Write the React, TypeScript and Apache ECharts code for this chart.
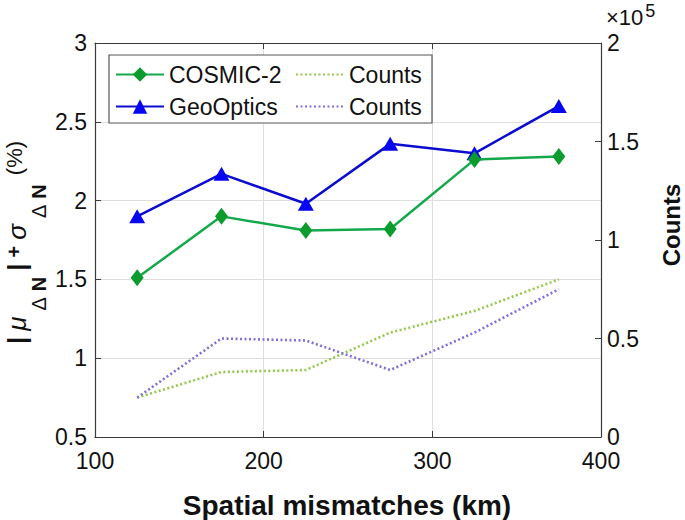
import React, { useEffect, useRef } from "react";
import * as echarts from "echarts";

const xValues = [125, 175, 225, 275, 325, 375];
const cosmic2 = [1.51, 1.9, 1.81, 1.82, 2.26, 2.28];
const geoOptics = [1.9, 2.17, 1.98, 2.36, 2.3, 2.6];
const countsCosmic = [20000, 33000, 34000, 53000, 64000, 80000];
const countsGeo = [20000, 50000, 49000, 34000, 53000, 75000];

const FONT = "'Liberation Sans', Arial, Helvetica, sans-serif";
const AXIS_COLOR = "#3a3a3a";
const GRID_COLOR = "#dedede";

const pair = (ys: number[]) => xValues.map((x, i) => [x, ys[i]]);

export default function App() {
  const ref = useRef<HTMLDivElement>(null);
  useEffect(() => {
    document.body.style.margin = "0";
    const chart = echarts.init(ref.current!, null, { renderer: "svg" });
    const axisLine = { show: true, onZero: false, lineStyle: { color: AXIS_COLOR, width: 1.2 } };
    const tick = { show: true, inside: true, length: 6, lineStyle: { color: AXIS_COLOR, width: 1 } };
    const label = { color: "#111", fontSize: 23, fontFamily: FONT };
    const L = 45;
    const pad = [0, 3, 0, 3];
    chart.setOption({
      animation: false,
      backgroundColor: "#fff",
      grid: { left: 95, right: 84, top: 43, bottom: 83, containLabel: false },
      xAxis: [
        {
          type: "value",
          min: 100,
          max: 400,
          interval: 100,
          position: "bottom",
          axisLine,
          axisTick: tick,
          axisLabel: { ...label, margin: 12 },
          splitLine: { show: true, lineStyle: { color: GRID_COLOR, width: 1 } },
        },
        {
          type: "value",
          min: 100,
          max: 400,
          interval: 100,
          position: "top",
          axisLine,
          axisTick: tick,
          axisLabel: { show: false },
          splitLine: { show: false },
        },
      ],
      yAxis: [
        {
          type: "value",
          min: 0.5,
          max: 3,
          interval: 0.5,
          position: "left",
          axisLine,
          axisTick: tick,
          axisLabel: { ...label, margin: 8 },
          splitLine: { show: true, lineStyle: { color: GRID_COLOR, width: 1 } },
        },
        {
          type: "value",
          min: 0,
          max: 200000,
          interval: 50000,
          position: "right",
          axisLine,
          axisTick: tick,
          axisLabel: { ...label, margin: 6, formatter: (v: number) => String(v / 100000) },
          splitLine: { show: false },
        },
      ],
      legend: [
        {
          data: ["COSMIC-2", "GeoOptics"],
          orient: "vertical",
          left: 115,
          top: 63,
          padding: 0,
          itemGap: 9,
          itemWidth: 48,
          itemHeight: 18,
          textStyle: { fontSize: 23, fontFamily: FONT, color: "#111" },
        },
        {
          data: ["Counts (COSMIC-2)", "Counts (GeoOptics)"],
          orient: "vertical",
          left: 295,
          top: 63,
          padding: 0,
          itemGap: 9,
          itemWidth: 48,
          itemHeight: 18,
          itemStyle: { color: "rgba(0,0,0,0)", borderWidth: 0 },
          formatter: () => "Counts",
          textStyle: { fontSize: 23, fontFamily: FONT, color: "#111" },
        },
      ],
      graphic: [
        {
          type: "rect",
          z: 3,
          shape: { x: 109, y: 55, width: 323, height: 68 },
          style: { fill: "#fff", stroke: "#555", lineWidth: 1.2 },
        },
        {
          type: "text",
          x: 347,
          y: 505,
          style: {
            text: "Spatial mismatches (km)",
            font: `bold 28px ${FONT}`,
            fill: "#111",
            align: "center",
            verticalAlign: "middle",
          },
        },
        {
          type: "text",
          x: 671,
          y: 225,
          rotation: Math.PI / 2,
          style: {
            text: "Counts",
            font: `bold 24px ${FONT}`,
            fill: "#111",
            align: "center",
            verticalAlign: "middle",
          },
        },
        {
          type: "text",
          x: 606,
          y: 2,
          style: {
            text: "{x|×}{t|10}{e|5}",
            align: "left",
            verticalAlign: "top",
            fill: "#111",
            rich: {
              x: { fontSize: 22, fontFamily: FONT, verticalAlign: "bottom", lineHeight: 26, fill: "#111" },
              t: { fontSize: 22, fontFamily: FONT, verticalAlign: "bottom", lineHeight: 26, fill: "#111" },
              e: { fontSize: 18, fontFamily: FONT, verticalAlign: "top", lineHeight: 26, fill: "#111", padding: [0, 0, 0, 2] },
            },
          },
        },
        {
          type: "text",
          x: 26,
          y: 244,
          rotation: Math.PI / 2,
          style: {
            text: "{b||}{i|μ}{d|Δ}{n|N}{b||}{p|+}{i|σ}{d|Δ}{n|N}{q| (%)}",
            align: "center",
            verticalAlign: "middle",
            fill: "#111",
            rich: {
              b: { fontSize: 26, fontWeight: "bold", fontFamily: FONT, verticalAlign: "top", lineHeight: L, padding: pad, fill: "#111" },
              i: { fontSize: 26, fontStyle: "italic", fontFamily: FONT, verticalAlign: "top", lineHeight: L, padding: pad, fill: "#111" },
              d: { fontSize: 20, fontFamily: FONT, verticalAlign: "bottom", lineHeight: L, padding: pad, fill: "#111" },
              n: { fontSize: 20, fontWeight: "bold", fontFamily: FONT, verticalAlign: "bottom", lineHeight: L, padding: pad, fill: "#111" },
              p: { fontSize: 20, fontWeight: "bold", fontFamily: FONT, verticalAlign: "top", lineHeight: L, padding: pad, fill: "#111" },
              q: { fontSize: 22, fontFamily: FONT, verticalAlign: "top", lineHeight: L, fill: "#111" },
            },
          },
        },
      ],
      series: [
        {
          name: "Counts (COSMIC-2)",
          type: "line",
          xAxisIndex: 0,
          yAxisIndex: 1,
          data: pair(countsCosmic),
          symbol: "none",
          lineStyle: { color: "#95c84a", width: 2.6, type: [2, 2.5] },
          itemStyle: { color: "#95c84a" },
          z: 2,
        },
        {
          name: "Counts (GeoOptics)",
          type: "line",
          xAxisIndex: 0,
          yAxisIndex: 1,
          data: pair(countsGeo),
          symbol: "none",
          lineStyle: { color: "#7e70d8", width: 2.6, type: [2, 2.5] },
          itemStyle: { color: "#7e70d8" },
          z: 2,
        },
        {
          name: "GeoOptics",
          type: "line",
          xAxisIndex: 0,
          yAxisIndex: 0,
          data: pair(geoOptics),
          symbol: "triangle",
          symbolSize: [16, 14],
          lineStyle: { color: "#0c0cd0", width: 2.5 },
          itemStyle: { color: "#0606f0" },
          z: 3,
        },
        {
          name: "COSMIC-2",
          type: "line",
          xAxisIndex: 0,
          yAxisIndex: 0,
          data: pair(cosmic2),
          symbol: "diamond",
          symbolSize: [13, 17],
          lineStyle: { color: "#14a84c", width: 2.5 },
          itemStyle: { color: "#0c9c2e" },
          z: 4,
        },
      ],
    });
    return () => chart.dispose();
  }, []);
  return <div ref={ref} style={{ width: 685, height: 520 }} />;
}
